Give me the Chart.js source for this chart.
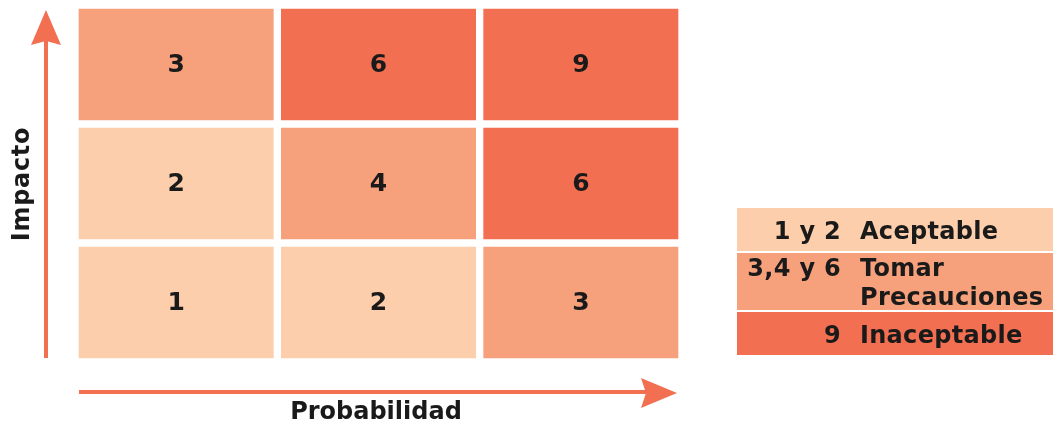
<!DOCTYPE html>
<html><head><meta charset="utf-8">
<script src="https://cdn.jsdelivr.net/npm/chart.js@4/dist/chart.umd.min.js"></script>
<style>html,body{margin:0;padding:0;background:#fff;} #wrap{width:1053px;height:425px;position:relative}</style>
</head><body><div id="wrap"><canvas id="c" width="1053" height="425"></canvas></div>
<script>
// Categorías
const probabilidad = ['1', '2', '3'];
const impacto = ['1', '2', '3']; // de abajo hacia arriba
// Valores de riesgo por fila de impacto
const valoresImpacto1 = [1, 2, 3];
const valoresImpacto2 = [2, 4, 6];
const valoresImpacto3 = [3, 6, 9];
// Nivel de color de cada celda (0 claro, 1 medio, 2 oscuro)
const nivelImpacto1 = [0, 0, 1];
const nivelImpacto2 = [0, 1, 2];
const nivelImpacto3 = [1, 2, 2];
// Leyenda
const leyendaValores = ['1 y 2', '3,4 y 6', '9'];
const leyendaTextos = [['Aceptable'], ['Tomar', 'Precauciones'], ['Inaceptable']];
const colores = ['#FCCEAC', '#F7A07C', '#F26F51'];
const tituloX = 'Probabilidad';
const tituloY = 'Impacto';

const filas = [
  { valores: valoresImpacto1, niveles: nivelImpacto1 },
  { valores: valoresImpacto2, niveles: nivelImpacto2 },
  { valores: valoresImpacto3, niveles: nivelImpacto3 }
];

const datasets = filas.map((f, r) => ({
  label: 'Impacto ' + impacto[r],
  data: probabilidad.map(() => [r, r + 1]),
  valores: f.valores,
  backgroundColor: f.niveles.map(n => colores[n]),
  borderColor: '#ffffff',
  borderWidth: 4,
  borderSkipped: false,
  grouped: false,
  barPercentage: 1,
  categoryPercentage: 1
}));

const arrowColor = '#F26F51';
const FONT = '"DejaVu Sans", sans-serif';

function setSpacing(ctx, px) { try { ctx.letterSpacing = px + 'px'; } catch (e) {} }

const decor = {
  id: 'decor',
  afterDatasetsDraw(chart) {
    const ctx = chart.ctx;
    ctx.save();
    ctx.fillStyle = '#1a1a1a';
    ctx.font = 'bold 25px ' + FONT;
    ctx.textAlign = 'center';
    ctx.textBaseline = 'middle';
    chart.data.datasets.forEach((ds, di) => {
      const meta = chart.getDatasetMeta(di);
      meta.data.forEach((el, i) => {
        const p = el.getCenterPoint();
        ctx.fillText(String(ds.valores[i]), p.x, p.y + 1);
      });
    });
    ctx.restore();
  },
  afterDraw(chart) {
    const ctx = chart.ctx;
    const ca = chart.chartArea;
    ctx.save();
    // Vertical arrow
    const vx = ca.left - 29;
    ctx.strokeStyle = arrowColor;
    ctx.fillStyle = arrowColor;
    ctx.lineWidth = 4;
    ctx.beginPath();
    ctx.moveTo(vx, ca.bottom - 4);
    ctx.lineTo(vx, 40);
    ctx.stroke();
    ctx.beginPath();
    ctx.moveTo(vx, 10);
    ctx.lineTo(vx - 15, 45);
    ctx.lineTo(vx, 41);
    ctx.lineTo(vx + 15, 45);
    ctx.closePath();
    ctx.fill();
    // Horizontal arrow
    const hy = ca.bottom + 30;
    ctx.beginPath();
    ctx.moveTo(ca.left + 4, hy);
    ctx.lineTo(648, hy);
    ctx.stroke();
    ctx.beginPath();
    ctx.moveTo(677, hy + 1);
    ctx.lineTo(641, hy - 14);
    ctx.lineTo(646, hy + 1);
    ctx.lineTo(641, hy + 16);
    ctx.closePath();
    ctx.fill();
    // Axis titles
    ctx.fillStyle = '#1a1a1a';
    ctx.textAlign = 'center';
    ctx.textBaseline = 'middle';
    ctx.font = 'bold 24px ' + FONT;
    setSpacing(ctx, 0);
    ctx.fillText(tituloX, 376, 413);
    ctx.save();
    ctx.translate(23, 184);
    ctx.rotate(-Math.PI / 2);
    ctx.font = 'bold 24px ' + FONT;
    setSpacing(ctx, 0.7);
    ctx.fillText(tituloY, 0, 0);
    ctx.restore();
    // Legend
    const boxes = [[208, 251], [253, 310], [312, 355]];
    ctx.font = 'bold 24px ' + FONT;
    setSpacing(ctx, 0.3);
    boxes.forEach((b, i) => {
      ctx.fillStyle = colores[i];
      ctx.fillRect(737, b[0], 1053 - 737, b[1] - b[0]);
      ctx.fillStyle = '#1a1a1a';
      const lines = leyendaTextos[i];
      const mid = (b[0] + b[1]) / 2;
      const lh = 29;
      const y0 = mid - (lines.length - 1) * lh / 2;
      ctx.textAlign = 'right';
      ctx.fillText(leyendaValores[i], 841, y0 + 3);
      ctx.textAlign = 'left';
      lines.forEach((t, k) => ctx.fillText(t, 860, y0 + k * lh + 3));
    });
    ctx.restore();
  }
};

new Chart(document.getElementById('c'), {
  type: 'bar',
  data: { labels: probabilidad, datasets },
  options: {
    responsive: false,
    animation: false,
    devicePixelRatio: 1,
    layout: { padding: { left: 75, right: 371, top: 5, bottom: 63 } },
    scales: {
      x: { display: false },
      y: { display: false, min: 0, max: 3 }
    },
    plugins: { legend: { display: false }, tooltip: { enabled: false } }
  },
  plugins: [decor]
});
</script></body></html>
